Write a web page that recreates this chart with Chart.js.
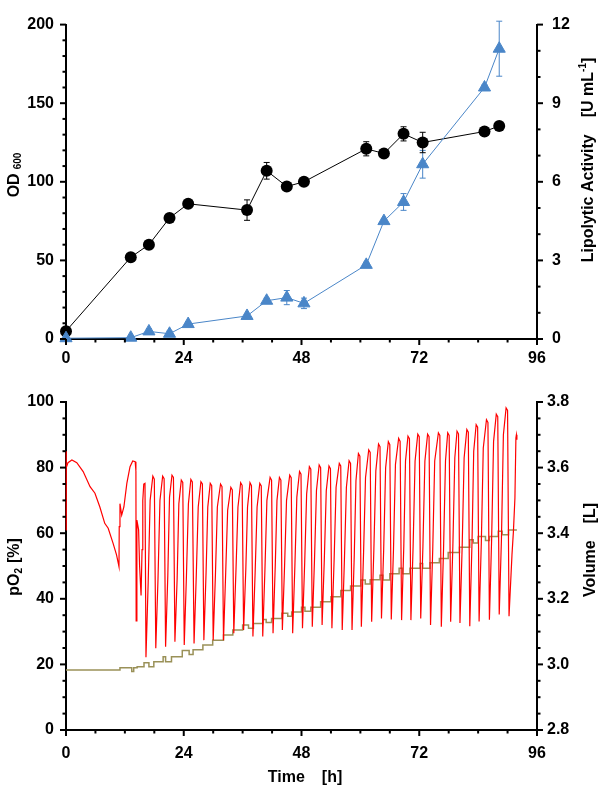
<!DOCTYPE html>
<html>
<head>
<meta charset="utf-8">
<script src="https://cdn.jsdelivr.net/npm/chart.js@4.4.1/dist/chart.umd.min.js"></script>
<style>
  html, body { margin: 0; padding: 0; background: #fff; }
  #wrap { position: relative; width: 600px; height: 788px; }
  canvas { position: absolute; left: 0; }
  #topChart { top: 0; }
  #bottomChart { top: 380px; }
</style>
</head>
<body>
<div id="wrap">
  <canvas id="topChart" width="600" height="380" style="width:600px;height:380px"></canvas>
  <canvas id="bottomChart" width="600" height="408" style="width:600px;height:408px"></canvas>
</div>
<script>
// 1. data
const sampleHours = [0, 13.2, 16.9, 21.1, 24.9, 36.9, 40.9, 45, 48.5, 61.2, 64.8, 68.8, 72.7, 85.3, 88.3];
const odValues    = [5, 52, 60, 77, 86, 82, 107, 97, 100, 121, 118, 130.5, 125, 132, 135.5];
const odErrors    = [0, 0, 0, 1.5, 0, 6.5, 5.3, 1.5, 1.5, 4.5, 2, 4.5, 6.5, 2.5, 0];
const lipValues   = [0.03, 0.05, 0.29, 0.2, 0.57, 0.88, 1.46, 1.58, 1.36, 2.83, 4.5, 5.23, 6.67, 9.6, 11.08];
const lipErrors   = [0, 0, 0.1, 0.1, 0.1, 0.05, 0.1, 0.27, 0.2, 0.1, 0.1, 0.32, 0.53, 0.1, 1.05];

const pO2Hours = [
  0, 0, 0.1, 0.4, 1.2, 2.2, 3.5, 4.9, 5.9, 6.9, 7.9, 8.6, 9.6, 10.3, 10.8,
  10.85, 11.0, 11.35, 11.8, 12.4, 13.05, 13.6, 14.1, 14.25, 14.3,
  14.45, 14.8, 15.0, 15.3, 15.5, 15.65, 15.85, 16.1, 16.3,
  16.75, 17.15, 17.7, 18.0, 18.3,
  18.75, 19.15, 19.7, 20.0, 20.3,
  20.75, 21.1, 21.6, 21.9, 22.2,
  22.65, 23.0, 23.5, 23.8, 24.1,
  24.55, 24.95, 25.45, 25.75, 26.1,
  26.55, 26.95, 27.5, 27.8, 28.1,
  28.55, 28.9, 29.4, 29.7, 30.0,
  30.45, 30.85, 31.5, 31.8, 32.1,
  32.55, 32.95, 33.6, 33.9, 34.2,
  34.65, 35.05, 35.6, 35.9, 36.2,
  36.65, 37.0, 37.5, 37.8, 38.1,
  38.55, 38.95, 39.5, 39.8, 40.1,
  40.55, 40.95, 41.6, 41.9, 42.2,
  42.65, 43.0, 43.5, 43.8, 44.1,
  44.55, 44.95, 45.6, 45.9, 46.2,
  46.65, 47.05, 47.6, 47.9, 48.2,
  48.65, 49.05, 49.6, 49.9, 50.2,
  50.65, 51.05, 51.6, 51.9, 52.2,
  52.65, 53.05, 53.6, 53.9, 54.2,
  54.65, 55.05, 55.7, 56.0, 56.3,
  56.75, 57.15, 57.7, 58.0, 58.3,
  58.75, 59.1, 59.6, 59.9, 60.2,
  60.65, 61.05, 61.7, 62.0, 62.3,
  62.75, 63.15, 63.7, 64.0, 64.3,
  64.75, 65.15, 65.7, 66.0, 66.3,
  66.75, 67.15, 67.8, 68.1, 68.4,
  68.85, 69.2, 69.7, 70.0, 70.3,
  70.75, 71.15, 71.7, 72.0, 72.3,
  72.75, 73.15, 73.7, 74.0, 74.3,
  74.75, 75.15, 75.9, 76.2, 76.5,
  76.95, 77.35, 77.8, 78.1, 78.4,
  78.85, 79.25, 79.7, 80.0, 80.3,
  80.75, 81.15, 81.7, 82.0, 82.3,
  82.75, 83.1, 83.6, 83.9, 84.2,
  84.65, 85.05, 85.7, 86.0, 86.3,
  86.75, 87.15, 87.7, 88.0, 88.3,
  88.75, 89.15, 89.7, 90.0, 90.3,
  90.9, 91.2, 91.5, 91.7, 91.8, 91.9
];
const pO2Values = [
  61, 85, 80, 81.5, 82.3, 81.5, 78.8, 74.2, 72.2, 68, 63, 61.5, 56.9, 53.4, 49.8,
  62, 69, 65.5, 68, 75.2, 80.3, 82, 81.8, 79, 33.3,
  64, 61, 50, 41, 55, 70, 75, 75.2, 22.2,
  45, 70, 77.4, 76.5, 24.9,
  46, 70, 77.4, 76.6, 25.4,
  47, 71, 77.7, 77, 26.9,
  46, 69, 76.2, 75.5, 25.9,
  47, 69, 76.4, 75.6, 26.4,
  47, 68, 75.7, 75, 27.4,
  48, 68, 75.2, 74.5, 27.4,
  47, 68, 75, 74.2, 27.4,
  48, 67, 74, 73.2, 29.5,
  49, 68, 75.4, 74.6, 30.5,
  49, 68, 75.4, 74.5, 28.5,
  48, 68, 75.2, 74.4, 28.5,
  49, 70, 77, 76.2, 29.5,
  50, 70, 77, 76.2, 30.5,
  50, 70, 77.7, 76.9, 29.5,
  50, 71, 78.8, 78, 31,
  51, 72, 80.3, 79.5, 31.5,
  52, 73, 80.8, 80, 32,
  52, 73, 80.5, 79.7, 31,
  52, 74, 81.3, 80.5, 30.5,
  52, 74, 82.1, 81.3, 30.5,
  53, 76, 84.3, 83.5, 31.5,
  54, 77, 85.4, 84.6, 33,
  55, 79, 87.2, 86.4, 34,
  55, 80, 87.9, 87, 33.7,
  55, 81, 88.9, 88, 33.5,
  56, 82, 89.6, 88.8, 33.5,
  56, 82, 90.2, 89.4, 34,
  56, 82, 90.2, 89.4, 32,
  55, 82, 90.6, 89.8, 31.5,
  55, 82, 90.6, 89.8, 33,
  56, 83, 91.1, 90.3, 32.6,
  56, 83, 91.6, 90.8, 31.6,
  57, 85, 93.1, 92.3, 33.1,
  57, 86, 94.6, 93.8, 33.6,
  58, 88, 96.3, 95.5, 35.2,
  58, 90, 98.2, 97.4, 34.7,
  53.4, 60.7, 70.7, 89, 90, 88.5
];

const volHours = [0, 11, 13.4, 13.8, 14.5, 15.9, 16.9, 17.9, 19.8, 20.3, 21.5, 23.7, 25.1, 25.9, 27.9,
  29.9, 32.1, 34.0, 36.0, 37.2, 38.2, 40.1, 40.8, 41.9, 44.0, 45.2, 46.0, 48.0, 48.7, 49.9,
  51.9, 54.0, 56.0, 58.0, 60.1, 61.0, 62.0, 64.0, 64.6, 66.0, 67.9, 68.6, 70.1, 72.2, 72.7,
  74.2, 76.1, 77.9, 80.2, 82.3, 83.0, 84.0, 85.5, 86.3, 88.1, 88.9, 90.2, 91.9];
const volValues = [2.983, 2.99, 2.978, 2.99, 2.993, 3.005, 2.993, 3.008, 3.023, 3.008, 3.023, 3.042, 3.03, 3.045, 3.059,
  3.074, 3.09, 3.105, 3.12, 3.11, 3.125, 3.137, 3.128, 3.14, 3.156, 3.147, 3.16, 3.174, 3.162, 3.174,
  3.191, 3.206, 3.225, 3.239, 3.257, 3.245, 3.258, 3.272, 3.257, 3.276, 3.293, 3.276, 3.293, 3.308, 3.293,
  3.31, 3.323, 3.341, 3.357, 3.38, 3.37, 3.39, 3.378, 3.39, 3.406, 3.395, 3.41, 3.41];

const hourTicks = [0, 24, 48, 72, 96];

// 2. styles
const FONT = "'Liberation Sans', Arial, Helvetica, sans-serif";
const BLUE = '#4a86c8';
const RED = '#ff0000';
const OLIVE = '#9a9158';

Chart.defaults.font.family = FONT;
Chart.defaults.font.size = 16;
Chart.defaults.font.weight = 'bold';
Chart.defaults.color = '#000';

function toPoints(xs, ys) { return xs.map((x, i) => ({ x: x, y: ys[i] })); }

// 3. small plugins: error bars, tick marks, rich axis titles
const errorBars = {
  id: 'errorBars',
  beforeDatasetsDraw(chart) {
    const ctx = chart.ctx;
    chart.data.datasets.forEach(ds => {
      if (!ds.errors) return;
      const xs = chart.scales.x, ys = chart.scales[ds.yAxisID];
      ctx.save();
      ctx.strokeStyle = ds.borderColor;
      ctx.lineWidth = 1;
      ds.data.forEach((p, j) => {
        const e = ds.errors[j];
        if (!e) return;
        const px = xs.getPixelForValue(p.x);
        const top = ys.getPixelForValue(p.y + e), bot = ys.getPixelForValue(p.y - e);
        ctx.beginPath();
        ctx.moveTo(px, top); ctx.lineTo(px, bot);
        ctx.moveTo(px - 3, top); ctx.lineTo(px + 3, top);
        ctx.moveTo(px - 3, bot); ctx.lineTo(px + 3, bot);
        ctx.stroke();
      });
      ctx.restore();
    });
  }
};

// tick specs and title specs are kept out of chart options (the option proxy mangles them)
function makeTickMarks(axes) {
  return {
    id: 'tickMarks',
    afterDraw(chart) {
      const ctx = chart.ctx;
      ctx.save();
      ctx.strokeStyle = '#000';
      ctx.lineWidth = 2;
      axes.forEach(a => {
        const s = chart.scales[a.id];
        const n = Math.round((a.max - a.min) / a.minor);
        const every = Math.round(a.major / a.minor);
        for (let i = 0; i <= n; i++) {
          const len = i % every === 0 ? 6 : 3.5;
          const p = s.getPixelForValue(a.min + i * a.minor);
          ctx.beginPath();
          if (a.side === 'left') { ctx.moveTo(s.right - len, p); ctx.lineTo(s.right, p); }
          else if (a.side === 'right') { ctx.moveTo(s.left, p); ctx.lineTo(s.left + len, p); }
          else { ctx.moveTo(p, s.top); ctx.lineTo(p, s.top + len); }
          ctx.stroke();
        }
      });
      ctx.restore();
    }
  };
}

function drawRich(ctx, item) {
  ctx.save();
  ctx.translate(item.x, item.y);
  if (item.rotate) ctx.rotate(-Math.PI / 2);
  ctx.fillStyle = '#000';
  ctx.textBaseline = 'alphabetic';
  ctx.textAlign = 'left';
  const widths = item.parts.map(p => {
    ctx.font = 'bold ' + p.size + 'px ' + FONT;
    return ctx.measureText(p.text).width;
  });
  const total = widths.reduce((a, w, i) => a + w + (item.parts[i].gap || 0), 0);
  let cx = -total / 2;
  item.parts.forEach((p, i) => {
    cx += p.gap || 0;
    ctx.font = 'bold ' + p.size + 'px ' + FONT;
    ctx.fillText(p.text, cx, 6 + (p.shift || 0));
    cx += widths[i];
  });
  ctx.restore();
}

function makeTitles(items) {
  return {
    id: 'axisTitles',
    afterDraw(chart) { items.forEach(item => drawRich(chart.ctx, item)); }
  };
}

function yAxis(pos, min, max, step, pad, width, fmt) {
  return {
    type: 'linear', position: pos, min: min, max: max,
    ticks: { stepSize: step, padding: pad, font: { size: 16, weight: 'bold' }, callback: fmt || (v => v) },
    grid: { display: false, drawTicks: false },
    border: { display: true, color: '#000', width: 2 },
    afterFit: s => { s.width = width; }
  };
}

function xAxis(height, pad) {
  return {
    type: 'linear', min: 0, max: 96,
    afterBuildTicks: s => { s.ticks = hourTicks.map(v => ({ value: v })); },
    ticks: { padding: pad, font: { size: 16, weight: 'bold' }, maxRotation: 0 },
    grid: { display: false, drawTicks: false },
    border: { display: true, color: '#000', width: 2 },
    afterFit: s => { s.height = height; }
  };
}

// 4. top chart: OD600 and lipolytic activity
new Chart(document.getElementById('topChart'), {
  type: 'scatter',
  data: {
    datasets: [{
      label: 'Lipolytic Activity',
      data: toPoints(sampleHours, lipValues),
      errors: lipErrors,
      yAxisID: 'y1',
      showLine: true,
      borderColor: BLUE, backgroundColor: BLUE, borderWidth: 1,
      pointStyle: 'triangle', pointRadius: 7, pointBorderWidth: 1,
      clip: false, order: 0
    }, {
      label: 'OD600',
      data: toPoints(sampleHours, odValues),
      errors: odErrors,
      yAxisID: 'y',
      showLine: true,
      borderColor: '#000', backgroundColor: '#000', borderWidth: 1,
      pointStyle: 'circle', pointRadius: 6, pointBorderWidth: 0,
      clip: false, order: 1
    }]
  },
  options: {
    responsive: false, animation: false,
    layout: { padding: { top: 10, left: 0, right: 0, bottom: 0 } },
    scales: {
      x: xAxis(41, 10),
      y: yAxis('left', 0, 200, 50, 12, 66),
      y1: yAxis('right', 0, 12, 3, 15, 63)
    },
    plugins: { legend: { display: false }, tooltip: { enabled: false } }
  },
  plugins: [
    errorBars,
    makeTickMarks([
      { id: 'x', side: 'bottom', min: 0, max: 96, major: 24, minor: 6 },
      { id: 'y', side: 'left', min: 0, max: 200, major: 50, minor: 10 },
      { id: 'y1', side: 'right', min: 0, max: 12, major: 3, minor: 1 }
    ]),
    makeTitles([
      { x: 13, y: 175, rotate: true, parts: [{ text: 'OD', size: 16 }, { text: '600', size: 10, gap: 4, shift: 2 }] },
      { x: 587, y: 160, rotate: true, parts: [{ text: 'Lipolytic Activity', size: 16 }, { text: '[U mL', size: 16, gap: 17 },
        { text: '-1', size: 10, shift: -7 }, { text: ']', size: 16 }] }
    ])
  ]
});

// 5. bottom chart: pO2 and volume
new Chart(document.getElementById('bottomChart'), {
  type: 'scatter',
  data: {
    datasets: [{
      label: 'pO2',
      data: toPoints(pO2Hours, pO2Values),
      yAxisID: 'y',
      showLine: true, borderColor: RED, borderWidth: 1.2, pointRadius: 0,
      clip: false, order: 0
    }, {
      label: 'Volume',
      data: toPoints(volHours, volValues),
      yAxisID: 'y1',
      showLine: true, stepped: 'before', borderColor: OLIVE, borderWidth: 1.5, pointRadius: 0,
      clip: false, order: 1
    }]
  },
  options: {
    responsive: false, animation: false,
    layout: { padding: { top: 22, left: 0, right: 0, bottom: 0 } },
    scales: {
      x: xAxis(58, 14),
      y: yAxis('left', 0, 100, 20, 12, 66),
      y1: yAxis('right', 2.8, 3.8, 0.2, 10, 63, v => v.toFixed(1))
    },
    plugins: { legend: { display: false }, tooltip: { enabled: false } }
  },
  plugins: [
    makeTickMarks([
      { id: 'x', side: 'bottom', min: 0, max: 96, major: 24, minor: 6 },
      { id: 'y', side: 'left', min: 0, max: 100, major: 20, minor: 5 },
      { id: 'y1', side: 'right', min: 2.8, max: 3.8, major: 0.2, minor: 0.05 }
    ]),
    makeTitles([
      { x: 13, y: 187, rotate: true, parts: [{ text: 'pO', size: 16 }, { text: '2', size: 10, shift: 3 }, { text: '[%]', size: 16, gap: 5 }] },
      { x: 589, y: 170, rotate: true, parts: [{ text: 'Volume', size: 16 }, { text: '[L]', size: 16, gap: 17 }] },
      { x: 305, y: 396, rotate: false, parts: [{ text: 'Time', size: 16 }, { text: '[h]', size: 16, gap: 17 }] }
    ])
  ]
});
</script>
</body>
</html>
